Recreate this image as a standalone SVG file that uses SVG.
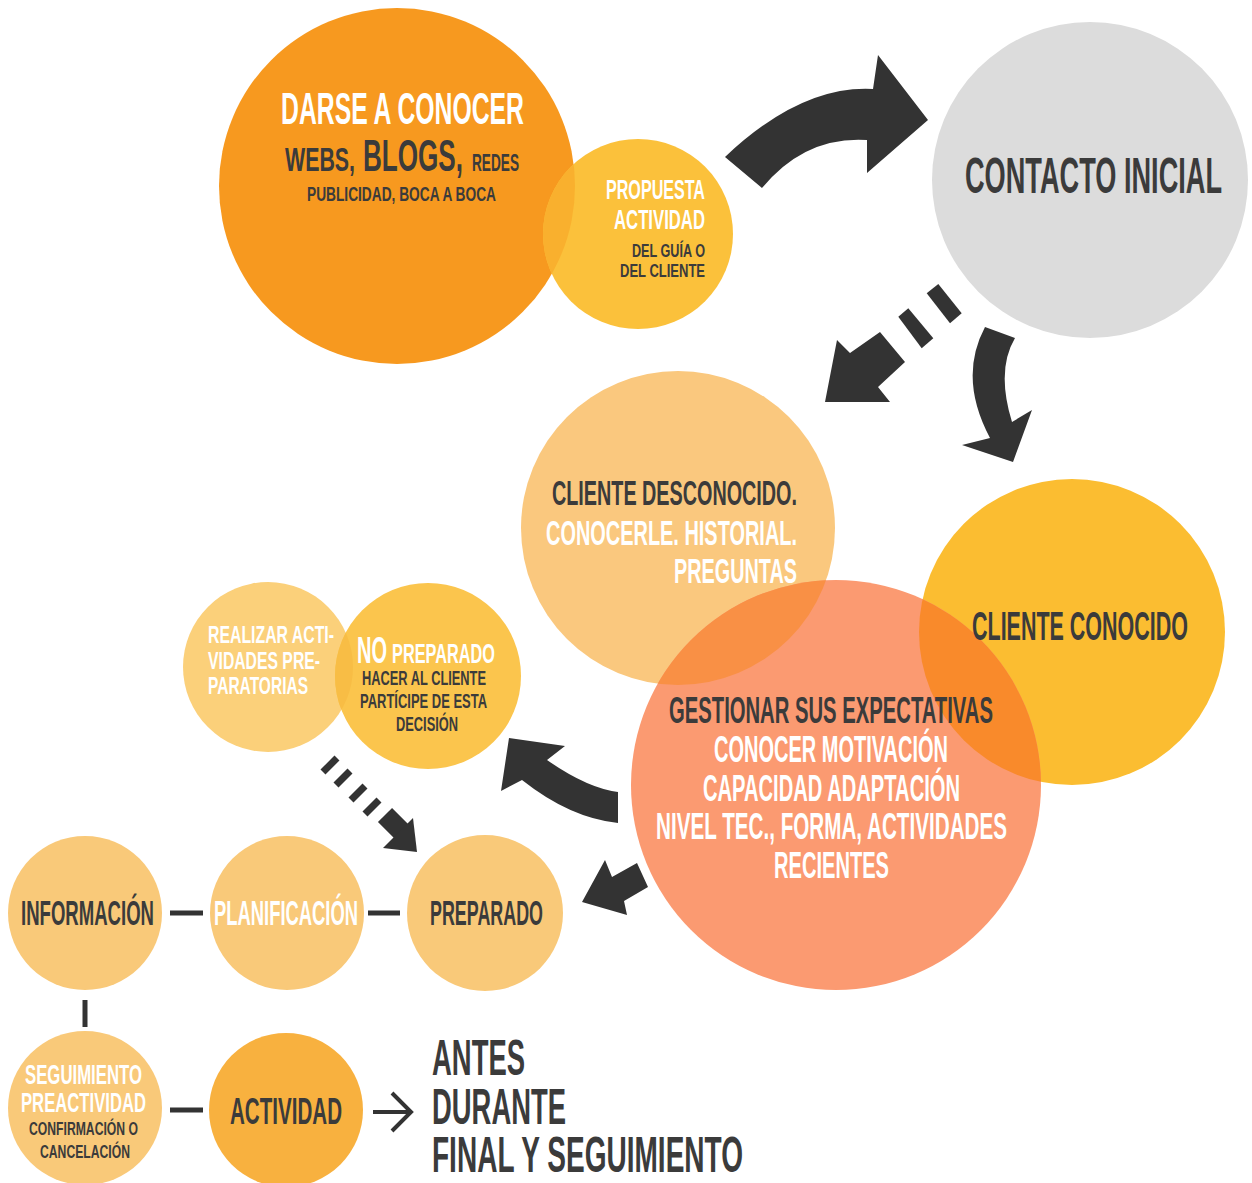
<svg xmlns="http://www.w3.org/2000/svg" width="1252" height="1183" viewBox="0 0 1252 1183">
<defs>
<style>
text{font-family:"Liberation Sans",Arial,sans-serif;font-weight:bold}
.d{fill:#3b3b3b}
.w{fill:#ffffff}
.arr{fill:#333333}
.ln{stroke:#333333;stroke-width:5;fill:none}
</style>
<clipPath id="cDarse"><circle cx="397" cy="186" r="178"/></clipPath>
<clipPath id="cDesc"><circle cx="678" cy="528" r="157"/></clipPath>
<clipPath id="cCono"><circle cx="1072" cy="632" r="153"/></clipPath>
<clipPath id="cReal"><circle cx="268" cy="667" r="85"/></clipPath>
</defs>
<rect width="1252" height="1183" fill="#ffffff"/>

<g id="node-darse">
<circle cx="397" cy="186" r="178" fill="#F7991F"/>
<text class="w" x="281" y="124" font-size="44" textLength="243" lengthAdjust="spacingAndGlyphs">DARSE A CONOCER</text>
<text class="d" x="285" y="171" font-size="33" textLength="70" lengthAdjust="spacingAndGlyphs">WEBS,</text>
<text class="d" x="363" y="171" font-size="45" textLength="100" lengthAdjust="spacingAndGlyphs">BLOGS,</text>
<text class="d" x="472" y="171" font-size="23" textLength="47" lengthAdjust="spacingAndGlyphs">REDES</text>
<text class="d" x="307" y="201" font-size="21" textLength="189" lengthAdjust="spacingAndGlyphs">PUBLICIDAD, BOCA A BOCA</text>
</g>

<g id="node-propuesta">
<circle cx="638" cy="234" r="95" fill="#FBC13B"/>
<circle cx="638" cy="234" r="95" fill="#F9B02E" clip-path="url(#cDarse)"/>
<text class="w" x="606" y="199" font-size="27" textLength="99" lengthAdjust="spacingAndGlyphs">PROPUESTA</text>
<text class="w" x="614" y="229" font-size="27" textLength="91" lengthAdjust="spacingAndGlyphs">ACTIVIDAD</text>
<text class="d" x="632" y="257" font-size="19" textLength="73" lengthAdjust="spacingAndGlyphs">DEL GUÍA O</text>
<text class="d" x="620" y="277" font-size="19" textLength="85" lengthAdjust="spacingAndGlyphs">DEL CLIENTE</text>
</g>

<g id="node-contacto">
<circle cx="1090" cy="180" r="158" fill="#DCDCDC"/>
<text class="d" x="965" y="193" font-size="50" textLength="257" lengthAdjust="spacingAndGlyphs">CONTACTO INICIAL</text>
</g>

<g id="node-desconocido">
<circle cx="678" cy="528" r="157" fill="#FAC87E"/>
</g>

<g id="node-conocido">
<circle cx="1072" cy="632" r="153" fill="#FBBD31"/>
</g>

<g id="node-gestionar">
<circle cx="836" cy="785" r="205" fill="#FB9A71"/>
<circle cx="836" cy="785" r="205" fill="#F99045" clip-path="url(#cDesc)"/>
<circle cx="836" cy="785" r="205" fill="#F98A2B" clip-path="url(#cCono)"/>
</g>

<g id="labels-desconocido">
<text class="d" x="552" y="505" font-size="35" textLength="245" lengthAdjust="spacingAndGlyphs">CLIENTE DESCONOCIDO.</text>
<text class="w" x="546" y="545" font-size="35" textLength="251" lengthAdjust="spacingAndGlyphs">CONOCERLE. HISTORIAL.</text>
<text class="w" x="674" y="583" font-size="35" textLength="123" lengthAdjust="spacingAndGlyphs">PREGUNTAS</text>
</g>
<g id="labels-conocido">
<text class="d" x="972" y="640" font-size="40" textLength="216" lengthAdjust="spacingAndGlyphs">CLIENTE CONOCIDO</text>
</g>
<g id="labels-gestionar">
<text class="d" x="669" y="723" font-size="36" textLength="324" lengthAdjust="spacingAndGlyphs">GESTIONAR SUS EXPECTATIVAS</text>
<text class="w" x="714" y="762" font-size="36" textLength="234" lengthAdjust="spacingAndGlyphs">CONOCER MOTIVACIÓN</text>
<text class="w" x="703" y="801" font-size="36" textLength="257" lengthAdjust="spacingAndGlyphs">CAPACIDAD ADAPTACIÓN</text>
<text class="w" x="656" y="839" font-size="36" textLength="351" lengthAdjust="spacingAndGlyphs">NIVEL TEC., FORMA, ACTIVIDADES</text>
<text class="w" x="774" y="878" font-size="36" textLength="115" lengthAdjust="spacingAndGlyphs">RECIENTES</text>
</g>

<g id="node-realizar">
<circle cx="268" cy="667" r="85" fill="#FBD07A"/>
<text class="w" x="208" y="643" font-size="24" textLength="126" lengthAdjust="spacingAndGlyphs">REALIZAR ACTI-</text>
<text class="w" x="208" y="669" font-size="24" textLength="112" lengthAdjust="spacingAndGlyphs">VIDADES PRE-</text>
<text class="w" x="208" y="694" font-size="24" textLength="100" lengthAdjust="spacingAndGlyphs">PARATORIAS</text>
</g>

<g id="node-nopreparado">
<circle cx="428" cy="676" r="93" fill="#FBC54D"/>
<circle cx="428" cy="676" r="93" fill="#F8BD45" clip-path="url(#cReal)"/>
<text class="w" x="357" y="663" font-size="37" textLength="30" lengthAdjust="spacingAndGlyphs">NO</text>
<text class="w" x="392" y="663" font-size="27" textLength="103" lengthAdjust="spacingAndGlyphs">PREPARADO</text>
<text class="d" x="362" y="685" font-size="20" textLength="124" lengthAdjust="spacingAndGlyphs">HACER AL CLIENTE</text>
<text class="d" x="360" y="708" font-size="20" textLength="127" lengthAdjust="spacingAndGlyphs">PARTÍCIPE DE ESTA</text>
<text class="d" x="396" y="731" font-size="20" textLength="62" lengthAdjust="spacingAndGlyphs">DECISIÓN</text>
</g>

<g id="node-informacion">
<circle cx="85" cy="913" r="77" fill="#F9C979"/>
<text class="d" x="21" y="925" font-size="35" textLength="133" lengthAdjust="spacingAndGlyphs">INFORMACIÓN</text>
</g>
<g id="node-planificacion">
<circle cx="287" cy="913" r="77" fill="#F9C979"/>
<text class="w" x="214" y="925" font-size="35" textLength="144" lengthAdjust="spacingAndGlyphs">PLANIFICACIÓN</text>
</g>
<g id="node-preparado">
<circle cx="485" cy="913" r="78" fill="#F9C979"/>
<text class="d" x="430" y="925" font-size="35" textLength="113" lengthAdjust="spacingAndGlyphs">PREPARADO</text>
</g>
<g id="node-seguimiento">
<circle cx="85" cy="1108" r="77" fill="#F9C979"/>
<text class="w" x="25" y="1084" font-size="28" textLength="117" lengthAdjust="spacingAndGlyphs">SEGUIMIENTO</text>
<text class="w" x="21" y="1112" font-size="28" textLength="125" lengthAdjust="spacingAndGlyphs">PREACTIVIDAD</text>
<text class="d" x="29" y="1135" font-size="19" textLength="109" lengthAdjust="spacingAndGlyphs">CONFIRMACIÓN O</text>
<text class="d" x="40" y="1158" font-size="19" textLength="90" lengthAdjust="spacingAndGlyphs">CANCELACIÓN</text>
</g>
<g id="node-actividad">
<circle cx="286" cy="1110" r="77" fill="#F8B13F"/>
<text class="d" x="230" y="1124" font-size="37" textLength="112" lengthAdjust="spacingAndGlyphs">ACTIVIDAD</text>
</g>
<g id="node-fases">
<text class="d" x="432" y="1075" font-size="50" textLength="93" lengthAdjust="spacingAndGlyphs">ANTES</text>
<text class="d" x="432" y="1124" font-size="50" textLength="134" lengthAdjust="spacingAndGlyphs">DURANTE</text>
<text class="d" x="432" y="1172" font-size="50" textLength="311" lengthAdjust="spacingAndGlyphs">FINAL Y SEGUIMIENTO</text>
</g>

<g id="connectors">
<path class="arr" d="M725,157 Q801,85 873,89 L878,55 L928,120 L867,173 L867,140 Q805,136 762,188 Z"/>
<polygon class="arr" points="926.7,293.3 938.3,284 961.7,313.3 950,323.3"/>
<polygon class="arr" points="898.3,316.7 908.3,308.3 933.3,338.3 921.7,348.3"/>
<polygon class="arr" points="825,402 837,340 850,353 880,332 905,362 878,387 890,402"/>
<path class="arr" d="M985,327 L1015,338 Q996,370 1012,422 L1032,410 L1013,462 L962,445 L990,438 Q958,378 985,327 Z"/>
<path class="arr" d="M618,792 Q587,788 547,760 L565,746 L509,738 L501,791 L522,780 Q570,818 618,823 Z"/>
<polygon class="arr" points="637,863 612,877 605,860 582,902 627,915 624,901 648,887"/>
<g stroke="#333333" stroke-width="7">
<line x1="323" y1="772" x2="337" y2="758"/>
<line x1="336" y1="785" x2="350" y2="771"/>
<line x1="351" y1="800" x2="365" y2="786"/>
<line x1="365" y1="814" x2="379" y2="800"/>
</g>
<line x1="385" y1="815" x2="401" y2="831" stroke="#333333" stroke-width="20"/>
<polygon class="arr" points="413,818 417,852 383,848"/>
<line class="ln" x1="170" y1="913" x2="203" y2="913"/>
<line class="ln" x1="368" y1="913" x2="400" y2="913"/>
<line class="ln" x1="85" y1="1000" x2="85" y2="1027"/>
<line class="ln" x1="170" y1="1110" x2="203" y2="1110"/>
<line x1="373" y1="1112" x2="409" y2="1112" stroke="#333333" stroke-width="4"/>
<polyline points="392,1093 411,1112 392,1131" stroke="#333333" stroke-width="4" fill="none"/>
</g>
</svg>
